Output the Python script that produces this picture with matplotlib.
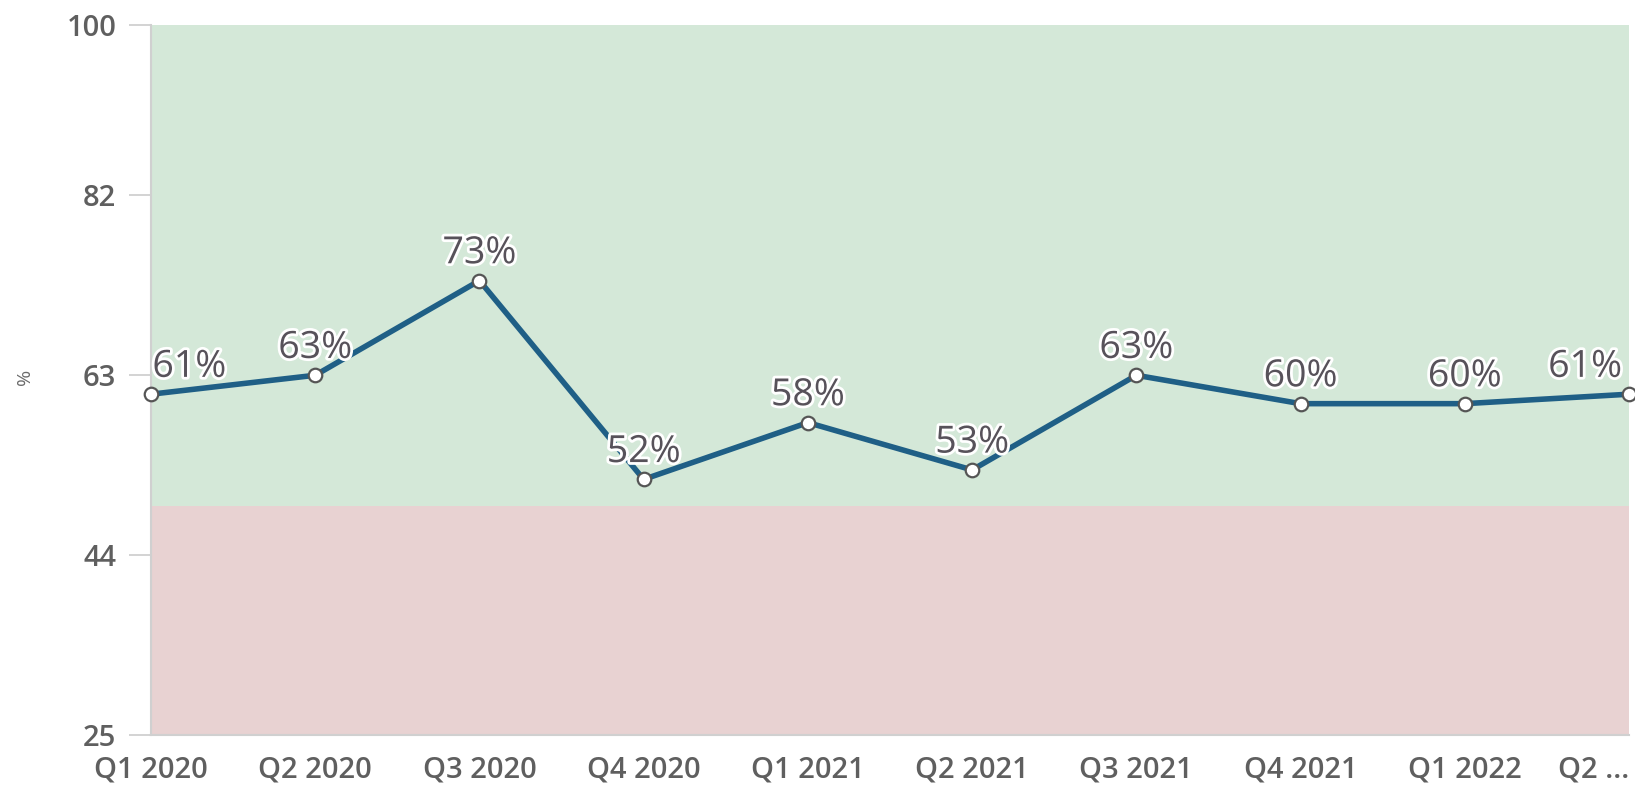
import matplotlib
matplotlib.use('Agg')
import matplotlib.pyplot as plt
import matplotlib.patheffects as pe

# data
quarters = ['Q1 2020', 'Q2 2020', 'Q3 2020', 'Q4 2020', 'Q1 2021',
            'Q2 2021', 'Q3 2021', 'Q4 2021', 'Q1 2022', 'Q2 ...']
values = [61, 63, 73, 52, 58, 53, 63, 60, 60, 61]
y_ticks = [25, 44, 63, 82, 100]
threshold = 49.2

plt.rcParams['font.family'] = ['Open Sans', 'DejaVu Sans']

fig = plt.figure(figsize=(16.35, 7.9), dpi=100)
ax = fig.add_axes([151 / 1635, 55 / 790, 1478 / 1635, 710 / 790])

ax.axhspan(threshold, 100, color='#d4e8d8', lw=0, zorder=0)
ax.axhspan(25, threshold, color='#e8d2d2', lw=0, zorder=0)

xs = list(range(len(values)))
ax.plot(xs, values, color='#1f5f86', lw=4, zorder=3, clip_on=False,
        solid_capstyle='round')
ax.scatter(xs, values, s=95, facecolor='white', edgecolor='#555555',
           linewidth=1.6, zorder=4, clip_on=False)

halo = [pe.withStroke(linewidth=4, foreground='white')]
for i, v in enumerate(values):
    ha = 'center'
    dx = 0
    if i == 0:
        ha, dx = 'left', 1
    elif i == len(values) - 1:
        ha, dx = 'right', -5
    ax.annotate(f'{v}%', (i, v), xytext=(dx, 6), textcoords='offset points',
                ha=ha, va='bottom', fontsize=27, color='#57525a',
                path_effects=halo, zorder=5)

ax.set_xlim(0, len(values) - 1)
ax.set_ylim(25, 100)
ax.set_yticks(y_ticks)
ax.set_yticklabels([str(t) for t in y_ticks])
ax.set_xticks(xs)
ax.set_xticklabels(quarters)

for s in ('top', 'right'):
    ax.spines[s].set_visible(False)
for s in ('left', 'bottom'):
    ax.spines[s].set_color('#d0d0d0')
    ax.spines[s].set_linewidth(1.5)

ax.tick_params(axis='y', length=16, width=1.2, color='#cccccc', pad=9,
               labelsize=21, labelcolor='#5f5f5f')
ax.tick_params(axis='x', length=0, pad=15, labelsize=21, labelcolor='#5f5f5f')
for lbl in ax.get_xticklabels() + ax.get_yticklabels():
    lbl.set_fontweight('semibold')
ax.get_xticklabels()[-1].set_horizontalalignment('right')

fig.text(25 / 1635, 1 - 377 / 790, '%', rotation=90, ha='center', va='center',
         fontsize=14, color='#6a6a6a')

fig.savefig('out.png', dpi=100)
